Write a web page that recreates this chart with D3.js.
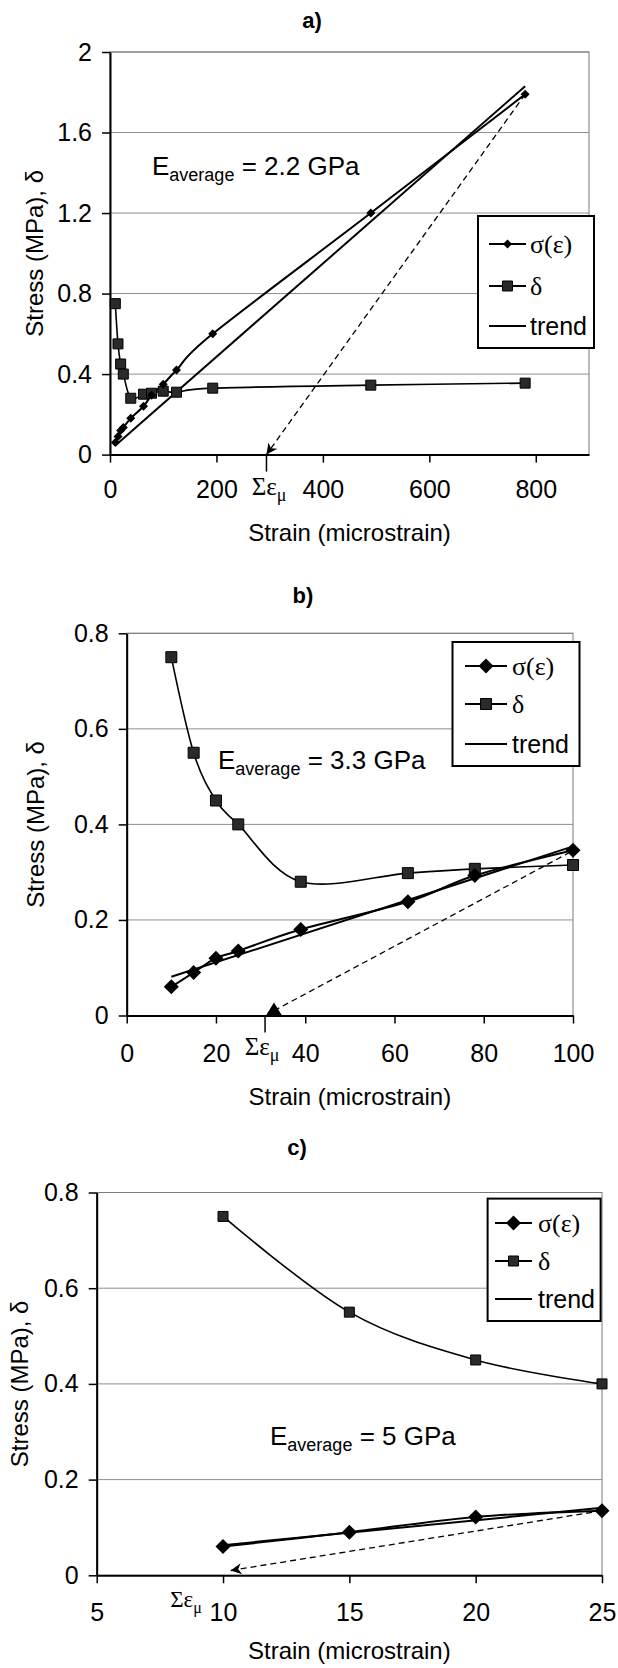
<!DOCTYPE html>
<html>
<head>
<meta charset="utf-8">
<script src="https://cdn.jsdelivr.net/npm/d3@7"></script>
<style>
body { margin: 0; background: #fff; }
svg text { font-family: "Liberation Sans", Arial, sans-serif; fill: #000; }
svg text.serif, svg tspan.serif { font-family: "Liberation Serif", "Times New Roman", serif; }
</style>
</head>
<body>
<div class="page"></div>
<script>
// panel a) full range
var strainA = [10, 15, 20, 25, 39, 63, 78, 100, 125, 193, 490, 780];
var sigmaA  = [0.06, 0.09, 0.12, 0.135, 0.18, 0.24, 0.295, 0.35, 0.42, 0.6, 1.2, 1.79];
var deltaA  = [0.75, 0.55, 0.45, 0.40, 0.28, 0.30, 0.305, 0.315, 0.31, 0.33, 0.345, 0.355];
var trendA  = [[10, 0.045], [780, 1.83]];
var unloadA = [[780, 1.79], [294, 0]];
var sumEpsA = 294;
var xTicksA = [0, 200, 400, 600, 800];
var yTicksA = [0, 0.4, 0.8, 1.2, 1.6, 2];

// panel b) up to 100 microstrain
var strainB = [10, 15, 20, 25, 39, 63, 78, 100];
var sigmaB  = [0.06, 0.09, 0.12, 0.135, 0.18, 0.238, 0.293, 0.346];
var deltaB  = [0.75, 0.55, 0.45, 0.40, 0.28, 0.298, 0.307, 0.315];
var trendB  = [[10, 0.081], [100, 0.354]];
var unloadB = [[33, 0.01], [100, 0.345]];
var sumEpsB = 31;
var xTicksB = [0, 20, 40, 60, 80, 100];
var yTicksB = [0, 0.2, 0.4, 0.6, 0.8];

// panel c) up to 25 microstrain
var strainC = [10, 15, 20, 25];
var sigmaC  = [0.06, 0.09, 0.122, 0.135];
var deltaC  = [0.75, 0.55, 0.45, 0.40];
var trendC  = [[10, 0.063], [25, 0.141]];
var unloadC = [[25, 0.135], [10.3, 0.01]];
var xTicksC = [5, 10, 15, 20, 25];
var yTicksC = [0, 0.2, 0.4, 0.6, 0.8];

var legendLabels = ['σ(ε)', 'δ', 'trend'];

var svg = d3.select('.page').append('svg')
  .attr('width', 618)
  .attr('height', 1668);

svg.append('defs').append('marker')
  .attr('id', 'arrow')
  .attr('viewBox', '0 0 10 10')
  .attr('refX', 10).attr('refY', 5)
  .attr('markerWidth', 13).attr('markerHeight', 11)
  .attr('markerUnits', 'userSpaceOnUse')
  .attr('orient', 'auto')
  .append('path')
  .attr('d', 'M0,0 L10,5 L0,10 L3,5 Z')
  .attr('fill', '#000');

function diamond(r) { return 'M0,' + (-r) + 'L' + r + ',0L0,' + r + 'L' + (-r) + ',0Z'; }
function square(r) { return 'M' + (-r) + ',' + (-r) + 'h' + 2 * r + 'v' + 2 * r + 'h' + (-2 * r) + 'Z'; }

function drawPanel(p) {
  var x = d3.scaleLinear().domain(p.xDomain).range([p.left, p.right]);
  var y = d3.scaleLinear().domain(p.yDomain).range([p.bottom, p.top]);
  var g = svg.append('g');

  g.append('text')
    .text(p.title)
    .attr('x', p.titleX).attr('y', p.titleY).attr('dy', '0.35em')
    .attr('text-anchor', 'middle')
    .style('font-size', '22px').style('font-weight', 'bold');

  // gridlines + plot frame
  g.selectAll('line.grid').data(p.yTicks.slice(1))
    .enter().append('line')
    .attr('class', 'grid')
    .attr('x1', p.left).attr('x2', p.right)
    .attr('y1', function(d) { return y(d); }).attr('y2', function(d) { return y(d); })
    .attr('stroke', '#8f8f8f').attr('stroke-width', 1);
  g.append('rect')
    .attr('x', p.left).attr('y', p.top)
    .attr('width', p.right - p.left).attr('height', p.bottom - p.top)
    .attr('fill', 'none').attr('stroke', '#7a7a7a').attr('stroke-width', 1);

  var yAxis = d3.axisLeft(y).tickValues(p.yTicks).tickSize(8).tickSizeOuter(0)
    .tickPadding(10).tickFormat(function(d) { return d; });
  var xAxis = d3.axisBottom(x).tickValues(p.xTicks).tickSize(8).tickSizeOuter(0)
    .tickPadding(p.xPad).tickFormat(function(d) { return d; });

  [[yAxis, 'translate(' + p.left + ',0)'], [xAxis, 'translate(0,' + p.bottom + ')']].forEach(function(a) {
    var ax = g.append('g').attr('transform', a[1]).call(a[0])
      .attr('font-family', null).attr('font-size', null);
    ax.select('.domain').attr('stroke', '#000').attr('stroke-width', 2);
    ax.selectAll('.tick line').attr('stroke', '#000').attr('stroke-width', 1.5);
    ax.selectAll('.tick text').style('font-size', '25px');
  });

  g.append('text')
    .text('Stress (MPa), δ')
    .attr('transform', 'translate(' + p.yTitleX + ',' + (p.top + p.bottom) / 2 + ') rotate(-90)')
    .attr('dy', '0.35em')
    .attr('text-anchor', 'middle')
    .style('font-size', '24px');

  g.append('text')
    .text('Strain (microstrain)')
    .attr('x', (p.left + p.right) / 2).attr('y', p.xTitleY).attr('dy', '0.35em')
    .attr('text-anchor', 'middle')
    .style('font-size', '24px');

  // sum of microstrains marker on the x axis
  if (p.sumTick != null) {
    g.append('line')
      .attr('x1', x(p.sumTick)).attr('x2', x(p.sumTick))
      .attr('y1', p.bottom).attr('y2', p.bottom + 17)
      .attr('stroke', '#000').attr('stroke-width', 1.5);
  }
  var se = g.append('text')
    .attr('class', 'serif')
    .attr('x', p.sumLabelX).attr('y', p.sumLabelY)
    .attr('text-anchor', 'middle')
    .style('font-size', p.sumSize + 'px');
  se.append('tspan').text('Σε');
  se.append('tspan').text('μ').attr('dy', 6).style('font-size', (p.sumSize - 7) + 'px');

  var line = d3.line()
    .x(function(d) { return x(d[0]); })
    .y(function(d) { return y(d[1]); });
  var smooth = d3.line()
    .x(function(d) { return x(d[0]); })
    .y(function(d) { return y(d[1]); })
    .curve(d3.curveCardinal.tension(0));

  var sig = p.strain.map(function(s, i) { return [s, p.sigma[i]]; });
  var del = p.strain.map(function(s, i) { return [s, p.delta[i]]; });

  // unloading line (dashed)
  g.append('path')
    .attr('d', line(p.unload))
    .attr('fill', 'none').attr('stroke', '#000').attr('stroke-width', 1.3)
    .attr('stroke-dasharray', '6,4')
    .attr('marker-end', p.arrow ? 'url(#arrow)' : null);
  if (p.triangle) {
    g.append('path')
      .attr('d', 'M0,-13L8,0L-8,0Z')
      .attr('transform', 'translate(' + x(p.unload[0][0]) + ',' + y(0) + ')')
      .attr('fill', '#000');
  }

  g.append('path').attr('d', line(p.trend))
    .attr('fill', 'none').attr('stroke', '#000').attr('stroke-width', 2);
  g.append('path').attr('d', smooth(sig))
    .attr('fill', 'none').attr('stroke', '#000').attr('stroke-width', 2);
  g.append('path').attr('d', smooth(del))
    .attr('fill', 'none').attr('stroke', '#000').attr('stroke-width', 1.6);

  g.selectAll('path.sq').data(del).enter().append('path')
    .attr('class', 'sq')
    .attr('d', square(p.sq))
    .attr('transform', function(d) { return 'translate(' + x(d[0]) + ',' + y(d[1]) + ')'; })
    .attr('fill', '#2a2a2a').attr('stroke', '#000').attr('stroke-width', 1);
  g.selectAll('path.dia').data(sig).enter().append('path')
    .attr('class', 'dia')
    .attr('d', diamond(p.dia))
    .attr('transform', function(d) { return 'translate(' + x(d[0]) + ',' + y(d[1]) + ')'; })
    .attr('fill', '#000');

  // E average annotation
  var et = g.append('text').attr('x', p.eX).attr('y', p.eY).style('font-size', '26px');
  et.append('tspan').text('E');
  et.append('tspan').text('average').attr('dy', 6).style('font-size', '18px');
  et.append('tspan').text(' = ' + p.eValue + ' GPa').attr('dy', -6);

  // legend
  var L = p.legend;
  var lg = g.append('g');
  lg.append('rect')
    .attr('x', L.x).attr('y', L.y).attr('width', L.w).attr('height', L.h)
    .attr('fill', '#fff').attr('stroke', '#000').attr('stroke-width', 2);
  legendLabels.forEach(function(lab, i) {
    var ry = L.rows[i];
    lg.append('line')
      .attr('x1', L.l1).attr('x2', L.l2).attr('y1', ry).attr('y2', ry)
      .attr('stroke', '#000').attr('stroke-width', 1.8);
    if (i === 0) {
      lg.append('path').attr('d', diamond(p.dia))
        .attr('transform', 'translate(' + (L.l1 + L.l2) / 2 + ',' + ry + ')').attr('fill', '#000');
    }
    if (i === 1) {
      lg.append('path').attr('d', square(p.sq))
        .attr('transform', 'translate(' + (L.l1 + L.l2) / 2 + ',' + ry + ')')
        .attr('fill', '#2a2a2a').attr('stroke', '#000');
    }
    lg.append('text')
      .text(lab)
      .attr('class', i < 2 ? 'serif' : null)
      .attr('x', L.tx).attr('y', ry).attr('dy', '0.35em')
      .style('font-size', i < 2 ? '26px' : '25px');
  });
}

drawPanel({
  title: 'a)', titleX: 312, titleY: 20,
  left: 110, right: 589, top: 52, bottom: 454.6,
  xDomain: [0, 900], yDomain: [0, 2], xTicks: xTicksA, yTicks: yTicksA, xPad: 18,
  yTitleX: 35, xTitleY: 533,
  strain: strainA, sigma: sigmaA, delta: deltaA, trend: trendA, unload: unloadA, arrow: true,
  sumTick: sumEpsA, sumLabelX: 269, sumLabelY: 495, sumSize: 25,
  dia: 4.5, sq: 5,
  eX: 152, eY: 175, eValue: '2.2',
  legend: {x: 478, y: 216, w: 116, h: 132, rows: [244, 286, 326], l1: 489, l2: 526, tx: 530}
});

drawPanel({
  title: 'b)', titleX: 303, titleY: 595,
  left: 126.7, right: 573, top: 633.3, bottom: 1015.5,
  xDomain: [0, 100], yDomain: [0, 0.8], xTicks: xTicksB, yTicks: yTicksB, xPad: 21,
  yTitleX: 36, xTitleY: 1097,
  strain: strainB, sigma: sigmaB, delta: deltaB, trend: trendB, unload: unloadB, arrow: false, triangle: true,
  sumTick: sumEpsB, sumLabelX: 262, sumLabelY: 1055, sumSize: 25,
  dia: 7.5, sq: 5.5,
  eX: 218, eY: 768.5, eValue: '3.3',
  legend: {x: 452.5, y: 642, w: 127, h: 124, rows: [666, 704, 744], l1: 465, l2: 507, tx: 512}
});

drawPanel({
  title: 'c)', titleX: 297, titleY: 1147,
  left: 96.7, right: 602, top: 1192.5, bottom: 1575.3,
  xDomain: [5, 25], yDomain: [0, 0.8], xTicks: xTicksC, yTicks: yTicksC, xPad: 19.5,
  yTitleX: 20, xTitleY: 1651,
  strain: strainC, sigma: sigmaC, delta: deltaC, trend: trendC, unload: unloadC, arrow: true,
  sumTick: null, sumLabelX: 186, sumLabelY: 1607, sumSize: 23,
  dia: 7.5, sq: 5,
  eX: 270, eY: 1445, eValue: '5',
  legend: {x: 487.6, y: 1198.6, w: 113, h: 122.4, rows: [1223, 1261, 1299], l1: 495, l2: 532, tx: 538}
});
</script>
</body>
</html>
